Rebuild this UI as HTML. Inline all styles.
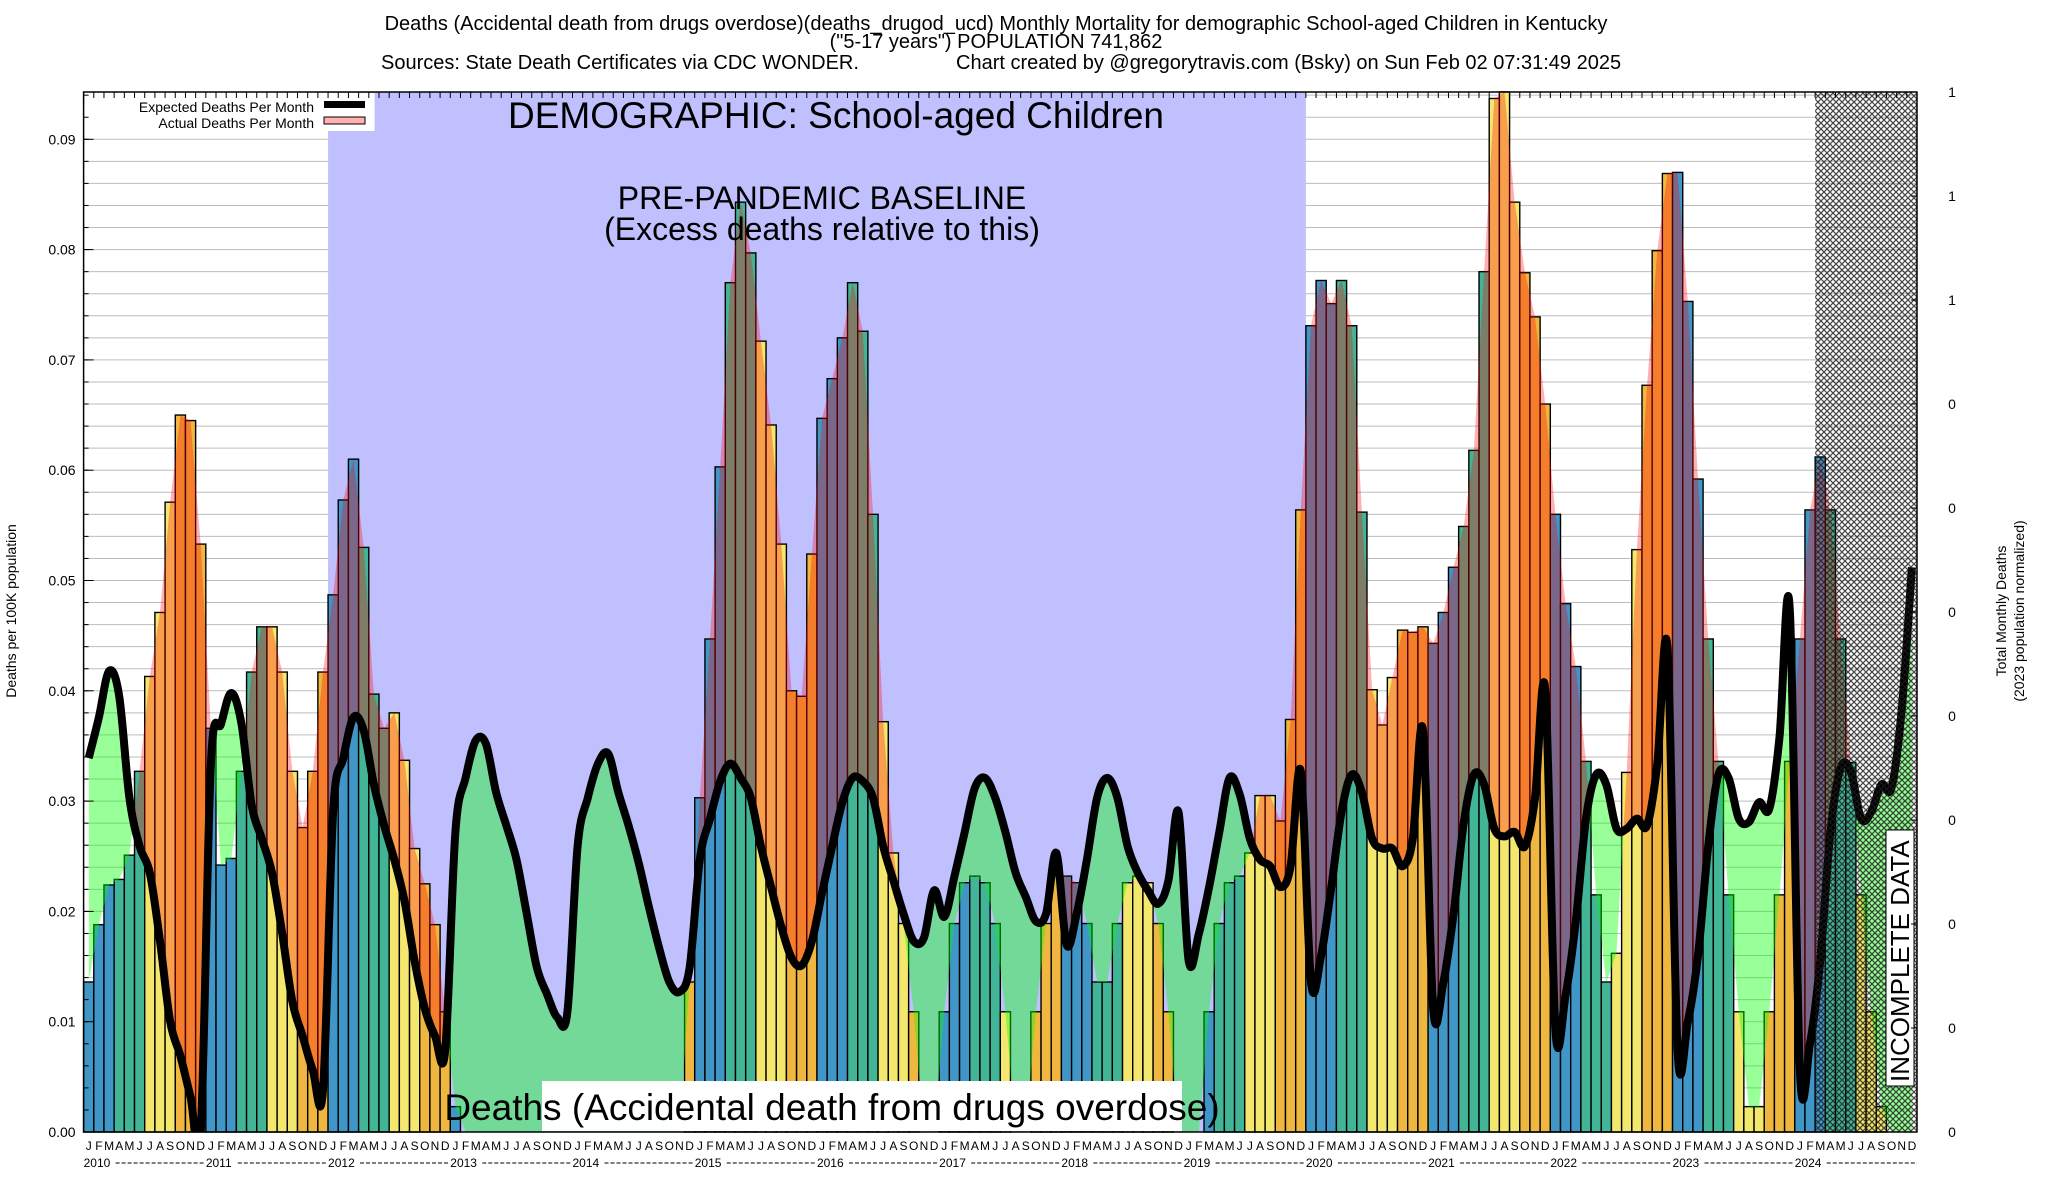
<!DOCTYPE html>
<html><head><meta charset="utf-8"><style>
html,body{margin:0;padding:0;background:#fff;}
svg{display:block;font-family:"Liberation Sans",Arial,sans-serif;}
</style></head><body>
<svg id="chart" width="2048" height="1200" viewBox="0 0 2048 1200" xmlns="http://www.w3.org/2000/svg">
<defs>
<pattern id="hatch" width="6" height="6" patternUnits="userSpaceOnUse">
<path d="M0,0 L6,6 M6,0 L0,6" stroke="#1a1a1a" stroke-width="1.3"/>
</pattern>
<clipPath id="plotClip"><rect x="83.6" y="92" width="1833.4" height="1040"/></clipPath>
</defs>
<text x="996" y="30" text-anchor="middle" font-size="20">Deaths (Accidental death from drugs overdose)(deaths_drugod_ucd) Monthly Mortality for demographic School-aged Children in Kentucky</text>
<text x="996" y="48" text-anchor="middle" font-size="20">("5-17 years") POPULATION 741,862</text>
<text x="381" y="69" font-size="20">Sources: State Death Certificates via CDC WONDER.</text>
<text x="956" y="69" font-size="20">Chart created by @gregorytravis.com (Bsky) on Sun Feb 02 07:31:49 2025</text>
<g id="plot"></g>
<text transform="translate(16,611) rotate(-90)" text-anchor="middle" font-size="14">Deaths per 100K population</text>
<text transform="translate(2006,611) rotate(-90)" text-anchor="middle" font-size="14">Total Monthly Deaths</text>
<text transform="translate(2024,611) rotate(-90)" text-anchor="middle" font-size="14">(2023 population normalized)</text>
</svg>
<script>
const actual = [
0.0136,0.0188,0.0224,0.0229,0.0251,0.0327,0.0413,0.0471,0.0571,0.0650,0.0645,0.0533,
0.0366,0.0242,0.0248,0.0327,0.0417,0.0458,0.0458,0.0417,0.0327,0.0276,0.0327,0.0417,
0.0487,0.0573,0.0610,0.0530,0.0397,0.0366,0.0380,0.0337,0.0257,0.0225,0.0188,0.0109,
0.0023,0,0,0,0,0,0,0,0,0,0,0,
0,0,0,0,0,0,0,0,0,0,0,0.0136,
0.0303,0.0447,0.0603,0.0770,0.0843,0.0797,0.0717,0.0641,0.0533,0.0400,0.0395,0.0524,
0.0647,0.0683,0.0720,0.0770,0.0726,0.0560,0.0372,0.0253,0.0189,0.0109,0,0,
0.0109,0.0189,0.0226,0.0232,0.0226,0.0189,0.0109,0,0,0.0109,0.0189,0.0232,
0.0232,0.0226,0.0189,0.0136,0.0136,0.0189,0.0226,0.0232,0.0226,0.0189,0.0109,0,
0,0,0.0109,0.0189,0.0226,0.0232,0.0253,0.0305,0.0305,0.0282,0.0374,0.0564,
0.0731,0.0772,0.0751,0.0772,0.0731,0.0562,0.0401,0.0369,0.0412,0.0455,0.0453,0.0458,
0.0443,0.0471,0.0512,0.0549,0.0618,0.0780,0.0937,0.0943,0.0843,0.0779,0.0739,0.0660,
0.0560,0.0479,0.0422,0.0336,0.0215,0.0136,0.0162,0.0326,0.0528,0.0677,0.0799,0.0869,
0.0870,0.0753,0.0592,0.0447,0.0336,0.0215,0.0109,0.0023,0.0023,0.0109,0.0215,0.0336,
0.0447,0.0564,0.0612,0.0564,0.0447,0.0335,0.0215,0.0109,0.0023,0,0,0];
const expected = [
0.0339,0.0376,0.0418,0.0395,0.0303,0.0259,0.0235,0.0173,0.0100,0.0069,0.0032,0.0000,
0.0334,0.0370,0.0398,0.0370,0.0296,0.0266,0.0235,0.0180,0.0118,0.0087,0.0056,0.0038,
0.0290,0.0339,0.0376,0.0364,0.0315,0.0278,0.0247,0.0210,0.0155,0.0112,0.0087,0.0074,
0.0272,0.0321,0.0355,0.0352,0.0308,0.0278,0.0247,0.0198,0.0149,0.0125,0.0104,0.0109,
0.0259,0.0303,0.0334,0.0343,0.0308,0.0278,0.0244,0.0204,0.0167,0.0136,0.0127,0.0149,
0.0247,0.0284,0.0318,0.0334,0.0321,0.0303,0.0259,0.0222,0.0186,0.0158,0.0151,0.0173,
0.0217,0.0259,0.0299,0.0321,0.0318,0.0303,0.0259,0.0228,0.0198,0.0173,0.0176,0.0219,
0.0195,0.0232,0.0272,0.0312,0.0321,0.0303,0.0272,0.0235,0.0213,0.0191,0.0198,0.0253,
0.0170,0.0198,0.0247,0.0303,0.0321,0.0303,0.0259,0.0235,0.0219,0.0207,0.0228,0.0290,
0.0155,0.0180,0.0222,0.0272,0.0321,0.0306,0.0266,0.0247,0.0241,0.0222,0.0241,0.0327,
0.0136,0.0160,0.0222,0.0290,0.0324,0.0308,0.0266,0.0257,0.0257,0.0241,0.0266,0.0364,
0.0112,0.0136,0.0198,0.0280,0.0324,0.0315,0.0275,0.0268,0.0272,0.0259,0.0303,0.0401,
0.0093,0.0124,0.0191,0.0284,0.0324,0.0315,0.0275,0.0275,0.0284,0.0278,0.0334,0.0438,
0.0074,0.0100,0.0160,0.0259,0.0324,0.0321,0.0284,0.0281,0.0299,0.0293,0.0358,0.0475,
0.0056,0.0081,0.0155,0.0272,0.0330,0.0327,0.0284,0.0290,0.0315,0.0312,0.0383,0.0512];
const years = ["2010","2011","2012","2013","2014","2015","2016","2017","2018","2019","2020","2021","2022","2023","2024"];
const monthLetters = ["J","F","M","A","M","J","J","A","S","O","N","D"];
const yTicks = [0,0.01,0.02,0.03,0.04,0.05,0.06,0.07,0.08,0.09];
const yTickLabels = ["0.00","0.01","0.02","0.03","0.04","0.05","0.06","0.07","0.08","0.09"];
const rightTickLabels = ["1","1","1","0","0","0","0","0","0","0","0"];
const baselineStart = 24, baselineEnd = 120, incompleteStart = 170;

const NS = "http://www.w3.org/2000/svg";
const X0 = 83.6, X1 = 1917, YB = 1132, YT = 92;
const N = actual.length;
const bw = (X1 - X0) / N;
const xL = m => X0 + bw * m;
const xC = m => X0 + bw * (m + 0.5);
const yS = v => YB - v * 11030;
const plot = document.getElementById('plot');
function el(tag, attrs, parent, text) {
  const e = document.createElementNS(NS, tag);
  for (const k in attrs) e.setAttribute(k, attrs[k]);
  if (text !== undefined) e.textContent = text;
  (parent || plot).appendChild(e);
  return e;
}
function smooth(pts) {
  let d = `M${pts[0][0].toFixed(1)},${pts[0][1].toFixed(1)}`;
  for (let i = 0; i < pts.length - 1; i++) {
    const p0 = pts[i - 1] || pts[i], p1 = pts[i], p2 = pts[i + 1], p3 = pts[i + 2] || p2;
    const c1 = [p1[0] + (p2[0] - p0[0]) / 6, p1[1] + (p2[1] - p0[1]) / 6];
    const c2 = [p2[0] - (p3[0] - p1[0]) / 6, p2[1] - (p3[1] - p1[1]) / 6];
    d += ` C${c1[0].toFixed(1)},${c1[1].toFixed(1)} ${c2[0].toFixed(1)},${c2[1].toFixed(1)} ${p2[0].toFixed(1)},${p2[1].toFixed(1)}`;
  }
  return d;
}
const grid = el('g', {});


for (let v = 0.002; v < 0.0945; v += 0.002) {
  el('line', {x1: X0, x2: X1, y1: yS(v), y2: yS(v), stroke: '#bdbdbd', 'stroke-width': 1}, grid);
}
const band = el('rect', {x: xL(baselineStart), y: YT, width: xL(baselineEnd) - xL(baselineStart), height: YB - YT, fill: '#c0c0ff'});


const colors = ['#4196c8', '#43b597', '#f4e76e', '#efb740'];
const bars = el('g', {});


for (let m = 0; m < N; m++) {
  if (actual[m] <= 0) continue;
  const r = el('rect', {x: xL(m), y: yS(actual[m]), width: bw, height: YB - yS(actual[m]), fill: colors[Math.floor((m % 12) / 3)], stroke: '#000', 'stroke-width': 1.4}, bars);
  
  
}
const expPts = expected.map((v, m) => [xC(m), yS(v)]);
const actPts = actual.map((v, m) => [xC(m), yS(v)]);
const expD = smooth(expPts);
const actD = 'M' + actPts.map(p => p[0].toFixed(1) + ',' + p[1].toFixed(1)).join(' L');
const defs = document.querySelector('defs');
const c1 = el('clipPath', {id: 'aboveExp'}, defs);
el('path', {d: expD + ` L${xC(N - 1)},0 L${xC(0)},0 Z`}, c1);
const c2 = el('clipPath', {id: 'aboveAct'}, defs);
el('path', {d: actD + ` L${xC(N - 1)},0 L${xC(0)},0 Z`}, c2);
const clipped = el('g', {'clip-path': 'url(#plotClip)'});


const redFill = el('path', {d: actD + ` L${xC(N - 1)},${YB} L${xC(0)},${YB} Z`, fill: '#ff0000', 'fill-opacity': 0.31, 'clip-path': 'url(#aboveExp)'}, clipped);


const greenFill = el('path', {d: expD + ` L${xC(N - 1)},${YB} L${xC(0)},${YB} Z`, fill: '#00ff00', 'fill-opacity': 0.4, 'clip-path': 'url(#aboveAct)'}, clipped);


const expLine = el('path', {d: expD, fill: 'none', stroke: '#000', 'stroke-width': 8, 'stroke-linejoin': 'round'}, clipped);


const hatch = el('rect', {x: xL(incompleteStart), y: YT, width: X1 - xL(incompleteStart), height: YB - YT, fill: 'url(#hatch)', 'fill-opacity': 0.8});


const t1 = el('text', {x: 836, y: 128, 'text-anchor': 'middle', 'font-size': 37}, plot, 'DEMOGRAPHIC: School-aged Children');


const t2 = el('text', {x: 822, y: 209, 'text-anchor': 'middle', 'font-size': 32}, plot, 'PRE-PANDEMIC BASELINE');


const t3 = el('text', {x: 822, y: 240, 'text-anchor': 'middle', 'font-size': 32}, plot, '(Excess deaths relative to this)');


const cbox = el('rect', {x: 542, y: 1081, width: 640, height: 50, fill: '#fff'});


const t4 = el('text', {x: 832, y: 1120, 'text-anchor': 'middle', 'font-size': 37}, plot, 'Deaths (Accidental death from drugs overdose)');


const ibox = el('rect', {x: 1886, y: 830, width: 28, height: 256, fill: '#fff', stroke: '#000', 'stroke-width': 1});


const t5 = el('text', {transform: 'translate(1909,1082) rotate(-90)', 'font-size': 26}, plot, 'INCOMPLETE DATA');


const lg = el('g', {});


el('rect', {x: X0 + 1, y: 93, width: 290, height: 38, fill: '#fff'}, lg);
const le1 = el('text', {x: 314, y: 112, 'text-anchor': 'end', 'font-size': 14}, lg, 'Expected Deaths Per Month');


el('rect', {x: 324, y: 101, width: 41, height: 7, fill: '#000'}, lg);
const le2 = el('text', {x: 314, y: 128, 'text-anchor': 'end', 'font-size': 14}, lg, 'Actual Deaths Per Month');


el('rect', {x: 324, y: 117, width: 41, height: 7, fill: '#ffb0b0', stroke: '#000', 'stroke-width': 1}, lg);
const frame = el('rect', {x: X0, y: YT, width: X1 - X0, height: YB - YT, fill: 'none', stroke: '#000', 'stroke-width': 1.5});


const yax = el('g', {});


for (let v = 0; v < 0.0945; v += 0.002) {
  el('line', {x1: X0, x2: X0 + 5, y1: yS(v), y2: yS(v), stroke: '#000'}, yax);
}
yTicks.forEach((v, i) => {
  el('line', {x1: X0, x2: X0 + 10, y1: yS(v), y2: yS(v), stroke: '#000'}, yax);
  const t = el('text', {x: X0 - 8, y: yS(v) + 5, 'text-anchor': 'end', 'font-size': 14}, yax, yTickLabels[i]);
  
  
});
const rax = el('g', {});


rightTickLabels.forEach((lab, i) => {
  const y = YT + i * (YB - YT) / 10;
  el('line', {x1: X1 - 6, x2: X1, y1: y, y2: y, stroke: '#000'}, rax);
  const t = el('text', {x: 1952, y: y + 5, 'text-anchor': 'middle', 'font-size': 14}, rax, lab);
  
  
});
const xax = el('g', {});


for (let m = 0; m < N; m++) {
  el('line', {x1: xL(m), x2: xL(m), y1: YT, y2: YT + 6, stroke: '#000'}, xax);
  const t = el('text', {x: xC(m), y: 1150, 'text-anchor': 'middle', 'font-size': 12}, xax, monthLetters[m % 12]);
  
  
}
years.forEach((yr, i) => {
  const x = xL(i * 12);
  const t = el('text', {x: x, y: 1167, 'font-size': 12}, xax, yr);
  
  
  const xe = i < years.length - 1 ? xL((i + 1) * 12) - 2 : X1;
  el('line', {x1: x + 32, x2: xe, y1: 1163, y2: 1163, stroke: '#000', 'stroke-dasharray': '4,2', 'stroke-width': 1}, xax);
});
</script>
</body></html>
